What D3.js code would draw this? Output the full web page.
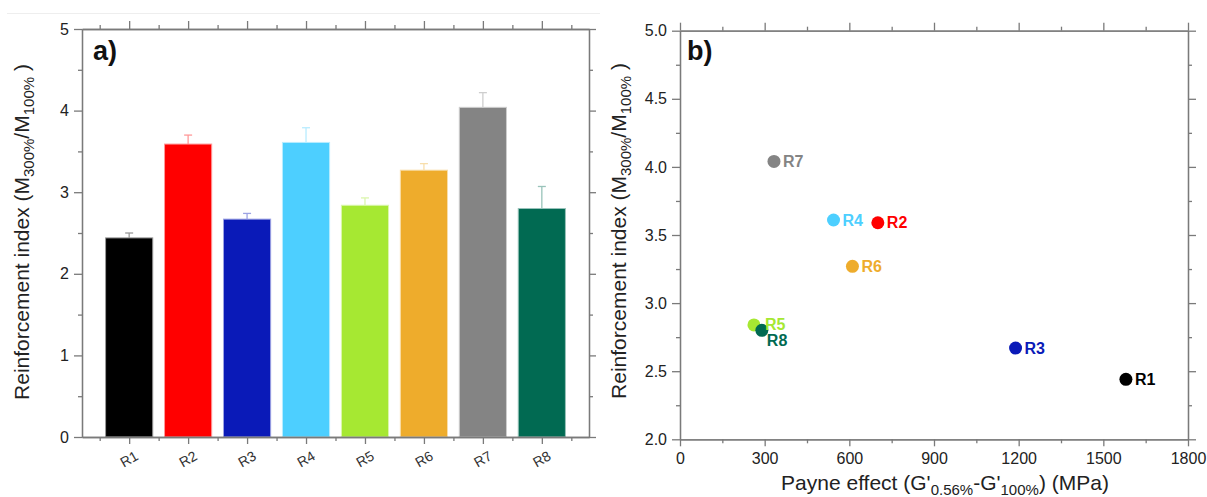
<!DOCTYPE html>
<html>
<head>
<meta charset="utf-8">
<script src="https://cdn.jsdelivr.net/npm/d3@7"></script>
<style>
  body { margin: 0; background: #fff; }
  svg { display: block; font-family: "Liberation Sans", Arial, sans-serif; }
</style>
</head>
<body>
<div id="app"></div>
<script>
'use strict';

// samples and values
const samples = ["R1", "R2", "R3", "R4", "R5", "R6", "R7", "R8"];
const ratio = [2.44, 3.59, 2.67, 3.61, 2.84, 3.27, 4.04, 2.80];
const ratioErr = [0.06, 0.11, 0.07, 0.18, 0.09, 0.08, 0.18, 0.27];
const payne = [1580, 701, 1189, 544, 262, 611, 333, 290];
const colors = ["#000000", "#ff0000", "#0a1ab8", "#4dcfff", "#a6e832", "#eeac2c", "#848484", "#016a52"];
const ticksA = [0, 1, 2, 3, 4, 5];
const ticksBx = [0, 300, 600, 900, 1200, 1500, 1800];
const ticksBy = [2.0, 2.5, 3.0, 3.5, 4.0, 4.5, 5.0];

const width = 1207;
const height = 497;
const axisColor = "#7a7a7a";
const textColor = "#222";

const svg = d3.select("#app")
  .append("svg")
  .attr("width", width)
  .attr("height", height);

// faint line on top of panel a
svg.append("line")
  .attr("x1", 7).attr("x2", 600).attr("y1", 13.5).attr("y2", 13.5)
  .attr("stroke", "#eeeeee");

const rows = samples.map((s, i) => ({name: s, idx: i + 1, v: ratio[i], e: ratioErr[i], p: payne[i], c: colors[i]}));

function lighten(c, t) {
  return d3.interpolateRgb(c, "#ffffff")(t);
}

function styleAxis(g) {
  g.select(".domain").attr("stroke", axisColor).attr("stroke-width", 1.3);
  g.selectAll(".tick line").attr("stroke", axisColor).attr("stroke-width", 1.3);
  g.selectAll(".tick text").attr("fill", textColor).attr("font-size", 16)
    .attr("font-family", "Liberation Sans, Arial, sans-serif");
}

// ---------- panel a: bar chart ----------
const a = {left: 82, right: 589, top: 29, bottom: 437};

const xa = d3.scaleLinear().domain([0.2, 8.8]).range([a.left, a.right]);
const ya = d3.scaleLinear().domain([0, 5]).range([a.bottom, a.top]);

const minorCat = d3.range(0.5, 9, 1);
const minorA = d3.range(0.5, 5, 1);

// bars
const bw = xa(1.4) - xa(0.6);
svg.append("g")
  .selectAll("rect")
  .data(rows)
  .join("rect")
    .attr("x", d => xa(d.idx) - bw / 2)
    .attr("y", d => ya(d.v))
    .attr("width", bw)
    .attr("height", d => ya(0) - ya(d.v))
    .attr("fill", d => d.c)
    .attr("stroke", d => lighten(d.c, 0.6))
    .attr("stroke-width", 1);

// error bars (upper only)
const eb = svg.append("g").selectAll("g").data(rows).join("g")
  .attr("stroke", d => lighten(d.c, 0.6))
  .attr("stroke-width", 1.3);
eb.append("line")
  .attr("x1", d => xa(d.idx)).attr("x2", d => xa(d.idx))
  .attr("y1", d => ya(d.v)).attr("y2", d => ya(d.v + d.e));
eb.append("line")
  .attr("x1", d => xa(d.idx) - 4).attr("x2", d => xa(d.idx) + 4)
  .attr("y1", d => ya(d.v + d.e)).attr("y2", d => ya(d.v + d.e));

// axes
svg.append("g")
  .attr("transform", `translate(0,${a.bottom})`)
  .call(d3.axisBottom(xa).tickValues(samples.map((s, i) => i + 1)).tickFormat("").tickSize(7).tickSizeOuter(0))
  .call(styleAxis);
svg.append("g")
  .attr("transform", `translate(0,${a.bottom})`)
  .call(d3.axisBottom(xa).tickValues(minorCat).tickFormat("").tickSize(4).tickSizeOuter(0))
  .call(styleAxis);
svg.append("g")
  .selectAll("text")
  .data(rows)
  .join("text")
    .attr("transform", d => `translate(${xa(d.idx)},${459}) rotate(-30)`)
    .attr("text-anchor", "middle")
    .attr("dy", "0.35em")
    .attr("font-size", 14)
    .attr("fill", "#333")
    .text(d => d.name);

svg.append("g")
  .attr("transform", `translate(0,${a.top})`)
  .call(d3.axisTop(xa).tickValues(samples.map((s, i) => i + 1)).tickFormat("").tickSize(8).tickSizeOuter(0))
  .call(styleAxis);
svg.append("g")
  .attr("transform", `translate(0,${a.top})`)
  .call(d3.axisTop(xa).tickValues(minorCat).tickFormat("").tickSize(4).tickSizeOuter(0))
  .call(styleAxis);

svg.append("g")
  .attr("transform", `translate(${a.left},0)`)
  .call(d3.axisLeft(ya).tickValues(ticksA).tickFormat(d3.format("d")).tickSize(8).tickPadding(5).tickSizeOuter(0))
  .call(styleAxis);
svg.append("g")
  .attr("transform", `translate(${a.left},0)`)
  .call(d3.axisLeft(ya).tickValues(minorA).tickFormat("").tickSize(4).tickSizeOuter(0))
  .call(styleAxis);
svg.append("g")
  .attr("transform", `translate(${a.right},0)`)
  .call(d3.axisRight(ya).tickValues(ticksA).tickFormat("").tickSize(7).tickSizeOuter(0))
  .call(styleAxis);
svg.append("g")
  .attr("transform", `translate(${a.right},0)`)
  .call(d3.axisRight(ya).tickValues(minorA).tickFormat("").tickSize(4).tickSizeOuter(0))
  .call(styleAxis);

svg.append("text")
  .attr("x", 93).attr("y", 60)
  .attr("font-size", 27).attr("font-weight", "bold")
  .attr("fill", "#111")
  .text("a)");

// rotated y label with subscripts
function yLabel(cx, cy) {
  const t = svg.append("text")
    .attr("transform", `translate(${cx},${cy}) rotate(-90)`)
    .attr("text-anchor", "middle")
    .attr("font-size", 21)
    .attr("fill", textColor);
  t.append("tspan").text("Reinforcement index (M");
  t.append("tspan").attr("font-size", 15).attr("dy", 5).text("300%");
  t.append("tspan").attr("dy", -5).text("/M");
  t.append("tspan").attr("font-size", 15).attr("dy", 5).text("100%");
  t.append("tspan").attr("dy", -5).text(" )");
}
yLabel(29, 232);

// ---------- panel b: scatter ----------
const b = {left: 680, right: 1188, top: 30.7, bottom: 439.3};

const xb = d3.scaleLinear().domain([0, 1800]).range([b.left, b.right]);
const yb = d3.scaleLinear().domain([2, 5]).range([b.bottom, b.top]);

const minorBx = d3.range(150, 1800, 300);
const minorBy = d3.range(2.25, 5, 0.5);

svg.append("g")
  .attr("transform", `translate(0,${b.bottom})`)
  .call(d3.axisBottom(xb).tickValues(ticksBx).tickFormat(d3.format("d")).tickSize(7).tickPadding(6).tickSizeOuter(0))
  .call(styleAxis);
svg.append("g")
  .attr("transform", `translate(0,${b.bottom})`)
  .call(d3.axisBottom(xb).tickValues(minorBx).tickFormat("").tickSize(4).tickSizeOuter(0))
  .call(styleAxis);
svg.append("g")
  .attr("transform", `translate(0,${b.top})`)
  .call(d3.axisTop(xb).tickValues(ticksBx).tickFormat("").tickSize(8).tickSizeOuter(0))
  .call(styleAxis);
svg.append("g")
  .attr("transform", `translate(0,${b.top})`)
  .call(d3.axisTop(xb).tickValues(minorBx).tickFormat("").tickSize(4).tickSizeOuter(0))
  .call(styleAxis);
svg.append("g")
  .attr("transform", `translate(${b.left},0)`)
  .call(d3.axisLeft(yb).tickValues(ticksBy).tickFormat(d3.format(".1f")).tickSize(8).tickPadding(5).tickSizeOuter(0))
  .call(styleAxis);
svg.append("g")
  .attr("transform", `translate(${b.left},0)`)
  .call(d3.axisLeft(yb).tickValues(minorBy).tickFormat("").tickSize(4).tickSizeOuter(0))
  .call(styleAxis);
svg.append("g")
  .attr("transform", `translate(${b.right},0)`)
  .call(d3.axisRight(yb).tickValues(ticksBy).tickFormat("").tickSize(8).tickSizeOuter(0))
  .call(styleAxis);
svg.append("g")
  .attr("transform", `translate(${b.right},0)`)
  .call(d3.axisRight(yb).tickValues(minorBy).tickFormat("").tickSize(4).tickSizeOuter(0))
  .call(styleAxis);

// points
svg.append("g")
  .selectAll("circle")
  .data(rows)
  .join("circle")
    .attr("cx", d => xb(d.p))
    .attr("cy", d => yb(d.v))
    .attr("r", 6.5)
    .attr("fill", d => d.c);

// point labels
const nudge = {R5: [11, 5.5], R8: [5, 16]};
svg.append("g")
  .selectAll("text")
  .data(rows)
  .join("text")
    .attr("x", d => xb(d.p) + (nudge[d.name] ? nudge[d.name][0] : 9))
    .attr("y", d => yb(d.v) + (nudge[d.name] ? nudge[d.name][1] : 5.5))
    .attr("font-size", 16)
    .attr("font-weight", "bold")
    .attr("fill", d => d.c)
    .text(d => d.name);

svg.append("text")
  .attr("x", 687).attr("y", 60)
  .attr("font-size", 27).attr("font-weight", "bold")
  .attr("fill", "#111")
  .text("b)");

yLabel(626, 231);

// x label b
const xl = svg.append("text")
  .attr("x", 945).attr("y", 490)
  .attr("text-anchor", "middle")
  .attr("font-size", 21)
  .attr("fill", textColor);
xl.append("tspan").text("Payne effect (G'");
xl.append("tspan").attr("font-size", 15).attr("dy", 5).text("0.56%");
xl.append("tspan").attr("dy", -5).text("-G'");
xl.append("tspan").attr("font-size", 15).attr("dy", 5).text("100%");
xl.append("tspan").attr("dy", -5).text(") (MPa)");
</script>
</body>
</html>
